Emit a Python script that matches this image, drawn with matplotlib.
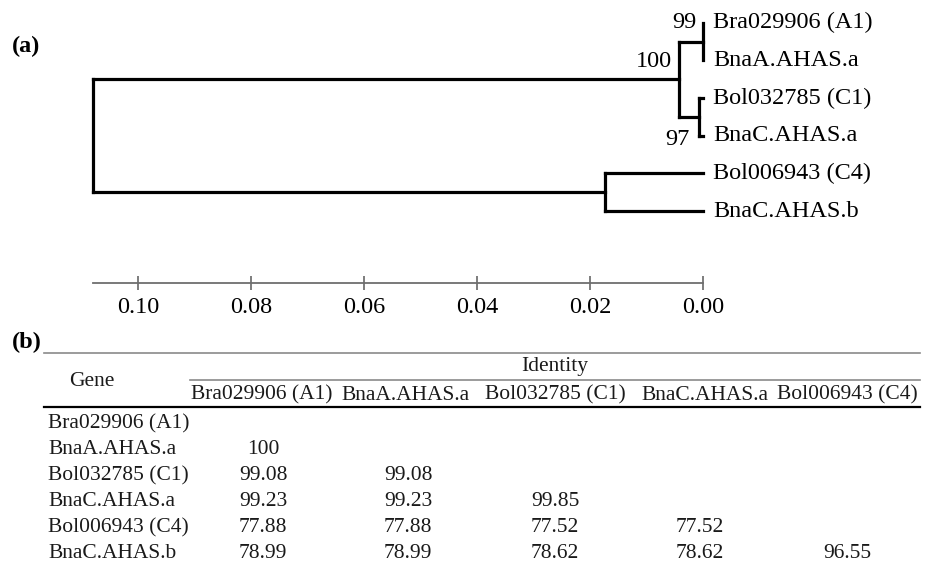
import matplotlib
matplotlib.use("Agg")
import matplotlib.pyplot as plt

plt.rcParams['font.family'] = ['Liberation Serif', 'DejaVu Serif']

# ---------------- data ----------------
leaf_names = ["Bra029906 (A1)", "BnaA.AHAS.a", "Bol032785 (C1)",
              "BnaC.AHAS.a", "Bol006943 (C4)", "BnaC.AHAS.b"]
leaf_depths = [0.0, 0.0, 0.0, 0.0, 0.0, 0.0]
# internal nodes: name -> (depth from tips, children)
node_depths = {"A1": 0.00005, "C1": 0.0007, "A": 0.0043, "B": 0.0174, "root": 0.1081}
node_children = {
    "A1": [0, 1],
    "C1": [2, 3],
    "A": ["A1", "C1"],
    "B": [4, 5],
    "root": ["A", "B"],
}
bootstrap = {"A1": 99, "A": 100, "C1": 97}
scale_ticks = [0.10, 0.08, 0.06, 0.04, 0.02, 0.00]
scale_labels = ["0.10", "0.08", "0.06", "0.04", "0.02", "0.00"]

table_cols = ["Bra029906 (A1)", "BnaA.AHAS.a", "Bol032785 (C1)",
              "BnaC.AHAS.a", "Bol006943 (C4)"]
table_rows = leaf_names
identity = [
    [],
    [100],
    [99.08, 99.08],
    [99.23, 99.23, 99.85],
    [77.88, 77.88, 77.52, 77.52],
    [78.99, 78.99, 78.62, 78.62, 96.55],
]

# ---------------- figure ----------------
W, H = 930, 565
fig = plt.figure(figsize=(W / 100, H / 100), dpi=100)

# overlay axes in pixel coordinates (for panel labels and table)
ov = fig.add_axes([0, 0, 1, 1])
ov.set_xlim(0, W)
ov.set_ylim(H, 0)
ov.axis('off')

# tree axes
left_px, right_px = 92.7, 703.3
top_px, bottom_px = 0.0, 282.7
ax = fig.add_axes([left_px / W, (H - bottom_px) / H,
                   (right_px - left_px) / W, (bottom_px - top_px) / H])
ax.patch.set_alpha(0)
x_max = node_depths["root"]
ax.set_xlim(x_max, 0.0)
leaf_y0, leaf_dy = 22.7, 37.66
ax.set_ylim((bottom_px - leaf_y0) / leaf_dy, (top_px - leaf_y0) / leaf_dy)

lw = 2.3
col = "black"


def node_pos(n):
    if isinstance(n, int):
        return leaf_depths[n], float(n)
    d = node_depths[n]
    ys = [node_pos(c)[1] for c in node_children[n]]
    return d, sum(ys) / len(ys)


def draw(n):
    if isinstance(n, int):
        return
    d, y = node_pos(n)
    kids = [node_pos(c) for c in node_children[n]]
    ky = [k[1] for k in kids]
    ax.plot([d, d], [min(ky), max(ky)], color=col, lw=lw,
            solid_capstyle='projecting', clip_on=False)
    for (cd, cy) in kids:
        ax.plot([d, cd], [cy, cy], color=col, lw=lw,
                solid_capstyle='projecting', clip_on=False)
    for c in node_children[n]:
        draw(c)


draw("root")

for i, name in enumerate(leaf_names):
    ax.annotate(name, xy=(leaf_depths[i], i), xytext=(7, 0),
                textcoords='offset points', ha='left', va='center',
                fontsize=17.5, annotation_clip=False)

# bootstrap labels
boot_offsets = {"A1": (-5, 14), "A": (-5, 13), "C1": (-7, -16)}
for n, v in bootstrap.items():
    d, y = node_pos(n)
    ox, oy = boot_offsets[n]
    ax.annotate(str(v), xy=(d, y), xytext=(ox, oy), textcoords='offset points',
                ha='right', va='center', fontsize=17.5, annotation_clip=False)

# scale axis
for s in ['top', 'left', 'right']:
    ax.spines[s].set_visible(False)
ax.spines['bottom'].set_color('#6e6e6e')
ax.spines['bottom'].set_linewidth(1.3)
ax.set_yticks([])
ax.set_xticks(scale_ticks)
ax.set_xticklabels(scale_labels, fontsize=17.5)
ax.tick_params(axis='x', direction='inout', length=10, width=1.1,
               color='#5a5a5a', pad=5, labelcolor='black')

# panel labels
ov.text(12, 46, "(a)", fontsize=17.5, fontweight='bold', ha='left', va='center')
ov.text(12, 342, "(b)", fontsize=17.5, fontweight='bold', ha='left', va='center')

# ---------------- table ----------------
tcol = "#1a1a1a"
fs_t = 15.5
ov.plot([44, 920], [353, 353], color='#8a8a8a', lw=1.2)
ov.plot([190, 920], [380, 380], color='#8a8a8a', lw=1.2)
ov.plot([44, 920], [407, 407], color='black', lw=1.6)

ov.text(92, 381, "Gene", fontsize=fs_t, ha='center', va='center', color=tcol)
ov.text(555, 367, "Identity", fontsize=fs_t, ha='center', va='center', color=tcol)

col_x = [262, 405, 555, 705, 847]
val_x = [263, 408, 555, 700, 847]
for j, c in enumerate(table_cols):
    ov.text(col_x[j], 395, c, fontsize=fs_t, ha='center', va='center', color=tcol)

row_y0, row_dy = 424, 26
for i, r in enumerate(table_rows):
    y = row_y0 + row_dy * i
    ov.text(48, y, r, fontsize=fs_t, ha='left', va='center', color=tcol)
    for j, v in enumerate(identity[i]):
        ov.text(val_x[j], y, f"{v:g}", fontsize=fs_t, ha='center', va='center',
                color=tcol)

fig.savefig("out.png", dpi=100)
